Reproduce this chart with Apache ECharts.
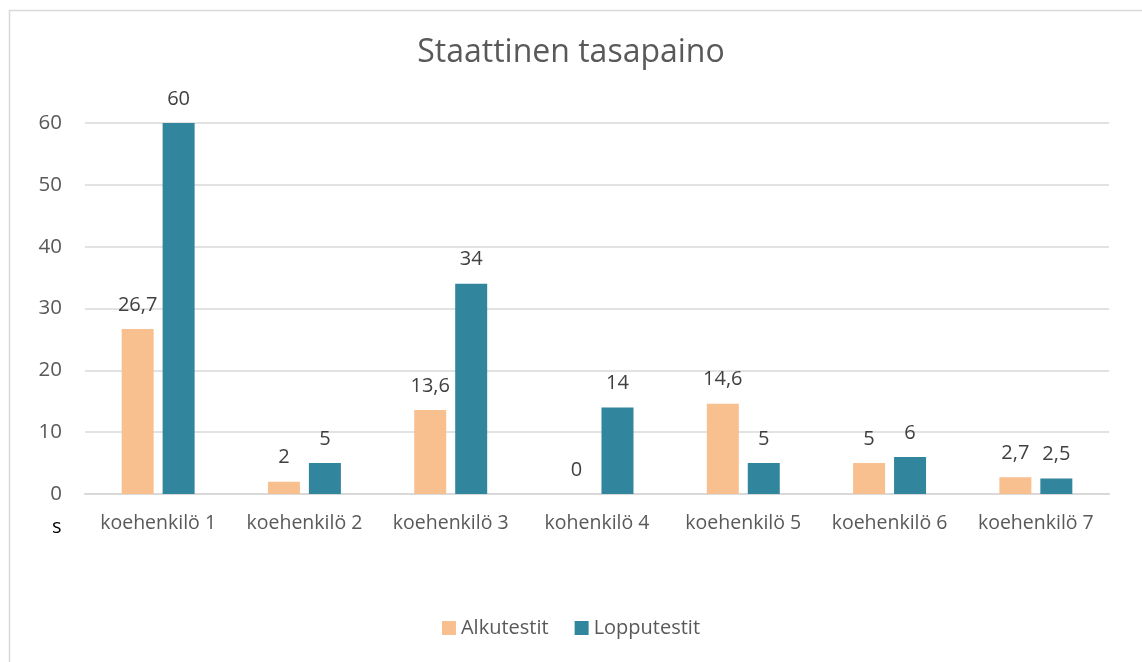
<!DOCTYPE html>
<html>
<head>
<meta charset="utf-8">
<script src="https://cdn.jsdelivr.net/npm/echarts@6/dist/echarts.min.js"></script>
<style>
  html, body { margin: 0; padding: 0; background: #fff; }
  #chart { width: 1142px; height: 662px; }
</style>
</head>
<body>
<div id="chart"></div>
<script>
// data
const categories = ['koehenkilö 1', 'koehenkilö 2', 'koehenkilö 3', 'kohenkilö 4', 'koehenkilö 5', 'koehenkilö 6', 'koehenkilö 7'];
const alkutestit = [26.7, 2, 13.6, 0, 14.6, 5, 2.7];
const lopputestit = [60, 5, 34, 14, 5, 6, 2.5];

const FONT = 'Open Sans';

function fmt(p) { return String(p.value).replace('.', ','); }

const chart = echarts.init(document.getElementById('chart'));
chart.setOption({
  animation: false,
  textStyle: { fontFamily: FONT },
  title: {
    text: 'Staattinen tasapaino',
    left: 'center', top: 32,
    textStyle: { fontFamily: FONT, fontSize: 32, fontWeight: 'normal', color: '#595959' }
  },
  graphic: [
    { type: 'rect', shape: { x: 9.5, y: 10.5, width: 1200, height: 700 },
      style: { fill: 'none', stroke: '#d9d9d9', lineWidth: 1.5 } },
    { type: 'text', left: 52, top: 517,
      style: { text: 's', fontFamily: FONT, fontSize: 20, fill: '#000' } }
  ],
  legend: {
    bottom: 19, left: 'center',
    itemWidth: 14, itemHeight: 14, itemGap: 26, icon: 'rect',
    textStyle: { fontFamily: FONT, fontSize: 20, color: '#595959' },
    data: ['Alkutestit', 'Lopputestit']
  },
  grid: { left: 85, right: 33, top: 123, bottom: 168 },
  xAxis: {
    type: 'category', data: categories,
    axisLine: { lineStyle: { color: '#d9d9d9', width: 2 } },
    axisTick: { show: false },
    axisLabel: { interval: 0, fontFamily: FONT, fontSize: 19.5, color: '#595959', margin: 19 }
  },
  yAxis: {
    type: 'value', min: 0, max: 60, interval: 10,
    axisLine: { show: false },
    axisTick: { show: false },
    splitLine: { lineStyle: { color: '#d9d9d9', width: 1.5 } },
    axisLabel: { fontFamily: FONT, fontSize: 20.5, color: '#595959', margin: 23 }
  },
  series: [
    {
      name: 'Alkutestit', type: 'bar', data: alkutestit,
      barWidth: 32, barGap: '28%',
      itemStyle: { color: '#f9c08f' },
      label: { show: true, position: 'top', distance: 14, formatter: fmt,
        fontFamily: FONT, fontSize: 20, color: '#404040' }
    },
    {
      name: 'Lopputestit', type: 'bar', data: lopputestit,
      barWidth: 32,
      itemStyle: { color: '#31859c' },
      label: { show: true, position: 'top', distance: 14, formatter: fmt,
        fontFamily: FONT, fontSize: 20, color: '#404040' }
    }
  ]
});
</script>
</body>
</html>
